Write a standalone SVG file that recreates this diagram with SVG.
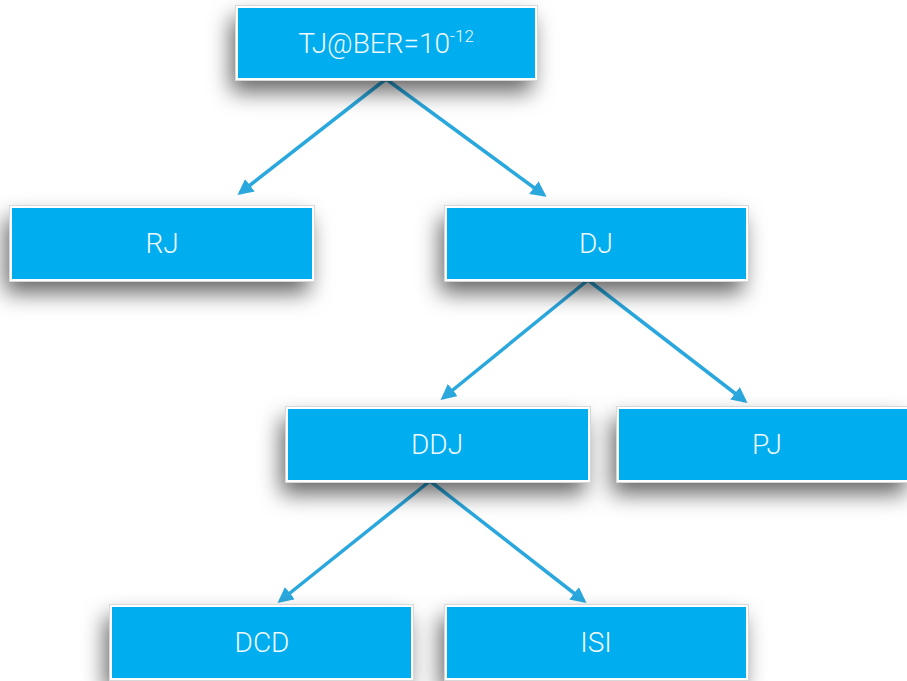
<svg xmlns="http://www.w3.org/2000/svg" width="907" height="681" viewBox="0 0 907 681">
<style>
.box{fill:#00ADEF;stroke:#ffffff;stroke-width:2;filter:url(#sh)}
.outer{fill:none;stroke:#d8d8d8;stroke-width:1}
.lbl{font-family:Roboto,"Noto Sans",sans-serif;font-size:28px;font-weight:300;fill:#eef9ff;text-anchor:middle}
.c{stroke:#2AA8DE;stroke-width:3.5;fill:none;marker-end:url(#ah)}
</style>
<defs>
<filter id="sh" x="-25%" y="-50%" width="150%" height="220%">
<feDropShadow dx="-5" dy="12" stdDeviation="11" flood-color="#000" flood-opacity="0.6"/>
</filter>
<marker id="ah" viewBox="0 0 10 10" refX="8" refY="5" markerWidth="4.5" markerHeight="4.5" orient="auto" markerUnits="strokeWidth">
<path d="M0,0 L10,5 L0,10 Z" fill="#2AA8DE"/>
</marker>
</defs>
<rect width="907" height="681" fill="#ffffff"/>
<g id="connectors">
<line class="c" x1="386" y1="79" x2="240" y2="193"/>
<line class="c" x1="386" y1="79" x2="544" y2="195"/>
<line class="c" x1="588" y1="280" x2="443" y2="398"/>
<line class="c" x1="588" y1="280" x2="745" y2="401"/>
<line class="c" x1="430" y1="481" x2="280" y2="601"/>
<line class="c" x1="430" y1="481" x2="584" y2="601"/>
</g>
<g id="n-tj"><rect class="box" x="237" y="7" width="299" height="72"/><rect class="outer" x="235.5" y="5.5" width="302" height="75"/><text class="lbl" x="386" y="53">TJ@BER=10<tspan font-size="17" dy="-11">-12</tspan></text></g>
<g id="n-rj"><rect class="box" x="11" y="207" width="302" height="73"/><rect class="outer" x="9.5" y="205.5" width="305" height="76"/><text class="lbl" x="162" y="253">RJ</text></g>
<g id="n-dj"><rect class="box" x="446" y="207" width="301" height="73"/><rect class="outer" x="444.5" y="205.5" width="304" height="76"/><text class="lbl" x="596" y="253">DJ</text></g>
<g id="n-ddj"><rect class="box" x="287" y="408" width="302" height="73"/><rect class="outer" x="285.5" y="406.5" width="305" height="76"/><text class="lbl" x="437" y="454">DDJ</text></g>
<g id="n-pj"><rect class="box" x="618" y="408" width="292" height="73"/><rect class="outer" x="616.5" y="406.5" width="295" height="76"/><text class="lbl" x="767" y="454">PJ</text></g>
<g id="n-dcd"><rect class="box" x="111" y="606" width="301" height="73"/><rect class="outer" x="109.5" y="604.5" width="304" height="76"/><text class="lbl" x="262" y="652">DCD</text></g>
<g id="n-isi"><rect class="box" x="446" y="606" width="301" height="73"/><rect class="outer" x="444.5" y="604.5" width="304" height="76"/><text class="lbl" x="596" y="652">ISI</text></g>
</svg>
